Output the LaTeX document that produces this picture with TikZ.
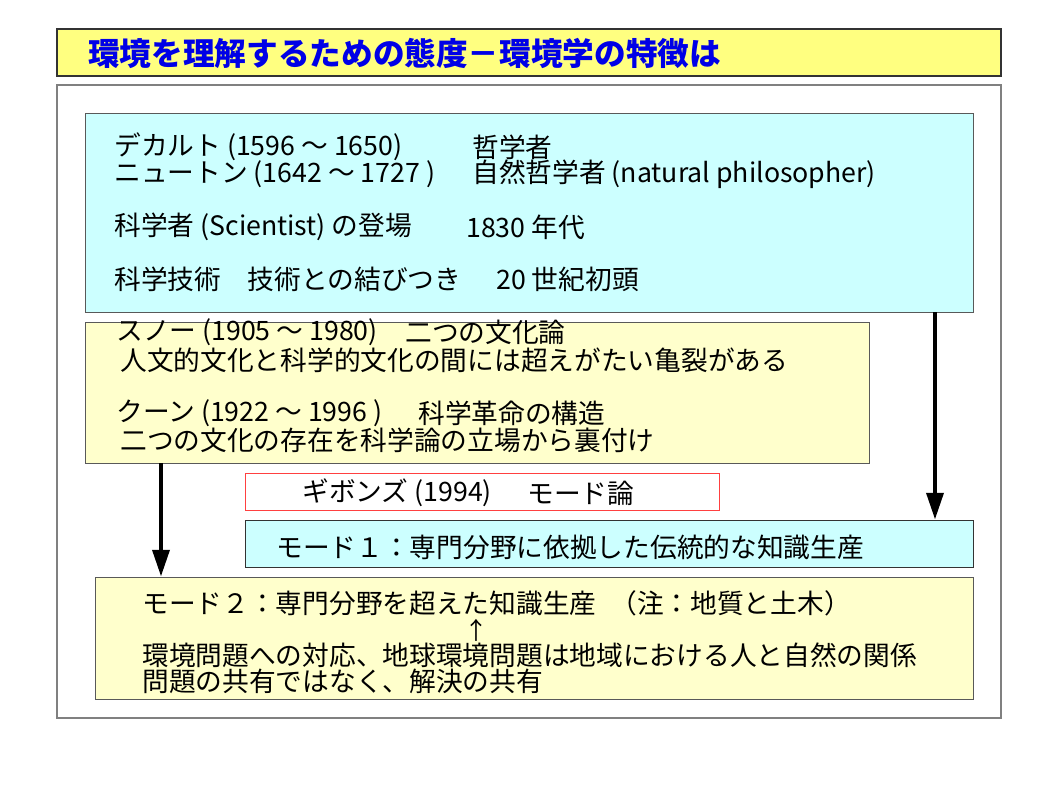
\documentclass[tikz,border=0pt]{standalone}
\usepackage{fontspec}
\setmainfont{Noto Sans CJK JP}
\usetikzlibrary{arrows.meta,fit}
\definecolor{titlefill}{HTML}{FFFF80}
\definecolor{titleblue}{HTML}{0000E6}
\definecolor{skyfill}{HTML}{CCFFFF}
\definecolor{creamfill}{HTML}{FFFFCC}
\definecolor{framegray}{HTML}{808080}
\definecolor{redline}{HTML}{FF4040}
\tikzset{>=Latex,panel/.style={draw=framegray,line width=.8pt,inner sep=0pt},titlebar/.style={draw=black!80,fill=titlefill,line width=.8pt,inner sep=0pt},cbox/.style={draw=black!65,fill=#1,line width=.7pt,inner sep=0pt},arr/.style={-{Triangle[length=19pt,width=12pt]},line width=2.8pt},txt/.style={anchor=west,inner sep=0pt,font=\fontsize{19}{19}\selectfont},ttl/.style={anchor=west,inner sep=0pt,text=titleblue,font=\fontsize{22.5}{22.5}\selectfont\bfseries}}

\begin{document}
\begin{tikzpicture}[x=0.025cm,y=-0.025cm]
\useasboundingbox (0,0) rectangle (1059,794);
% frames
\node[titlebar,fit={(57,29) (1001,76)}] (head) {};
\node[panel,fit={(57,85) (1001,718)}] (frame) {};
\node[ttl] (headtxt) at (88,53) {環境を理解するための態度－環境学の特徴は};
% boxes
\node[cbox=skyfill,fit={(85,113) (973,312)}] (sci) {};
\node[cbox=creamfill,fit={(85,322) (869,463)}] (snow) {};
\node[cbox=white,draw=redline,fit={(245,473) (719,510)}] (gib) {};
\node[cbox=skyfill,draw=black!80,fit={(245,520) (973,567)}] (modeone) {};
\node[cbox=creamfill,fit={(95,577) (973,699)}] (modetwo) {};
% texts
\node[txt] (desc) at (114,147) {デカルト (1596 ～ 1650)};
\node[txt] (descr) at (472,147) {哲学者};
\node[txt] (newt) at (114,174) {ニュートン (1642 ～ 1727 )};
\node[txt] (newtr) at (472,174) {自然哲学者 (natural philosopher)};
\node[txt] (scien) at (114,227) {科学者 (Scientist) の登場};
\node[txt] (scienr) at (466,227) {1830 年代};
\node[txt] (tech) at (114,279) {科学技術　技術との結びつき};
\node[txt] (techr) at (496,279) {20 世紀初頭};
\node[txt] (snowa) at (116,332) {スノー (1905 ～ 1980)};
\node[txt] (snowr) at (405,332) {二つの文化論};
\node[txt] (snowb) at (120,360) {人文的文化と科学的文化の間には超えがたい亀裂がある};
\node[txt] (kuhn) at (116,413) {クーン (1922 ～ 1996 )};
\node[txt] (kuhnr) at (418,413) {科学革命の構造};
\node[txt] (kuhnb) at (120,440) {二つの文化の存在を科学論の立場から裏付け};
\node[txt] (gibt) at (302,493) {ギボンズ (1994)};
\node[txt] (gibr) at (527,493) {モード論};
\node[txt] (onet) at (276,547) {モード１：専門分野に依拠した伝統的な知識生産};
\node[txt] (twot) at (142,603) {モード２：専門分野を超えた知識生産};
\node[txt] (twor) at (610,603) {（注：地質と土木）};
\node[txt,font=\fontsize{17}{17}\selectfont] (up) at (464,630) {↑};
\node[txt] (twob) at (142,655) {環境問題への対応、地球環境問題は地域における人と自然の関係};
\node[txt] (twoc) at (142,681) {問題の共有ではなく、解決の共有};
% arrows
\coordinate (la) at (161,0);
\coordinate (ra) at (935,0);
\draw[arr] (snow.south -| la) -- (modetwo.north -| la);
\draw[arr] (sci.south -| ra) -- (modeone.north -| ra);
\end{tikzpicture}
\end{document}
